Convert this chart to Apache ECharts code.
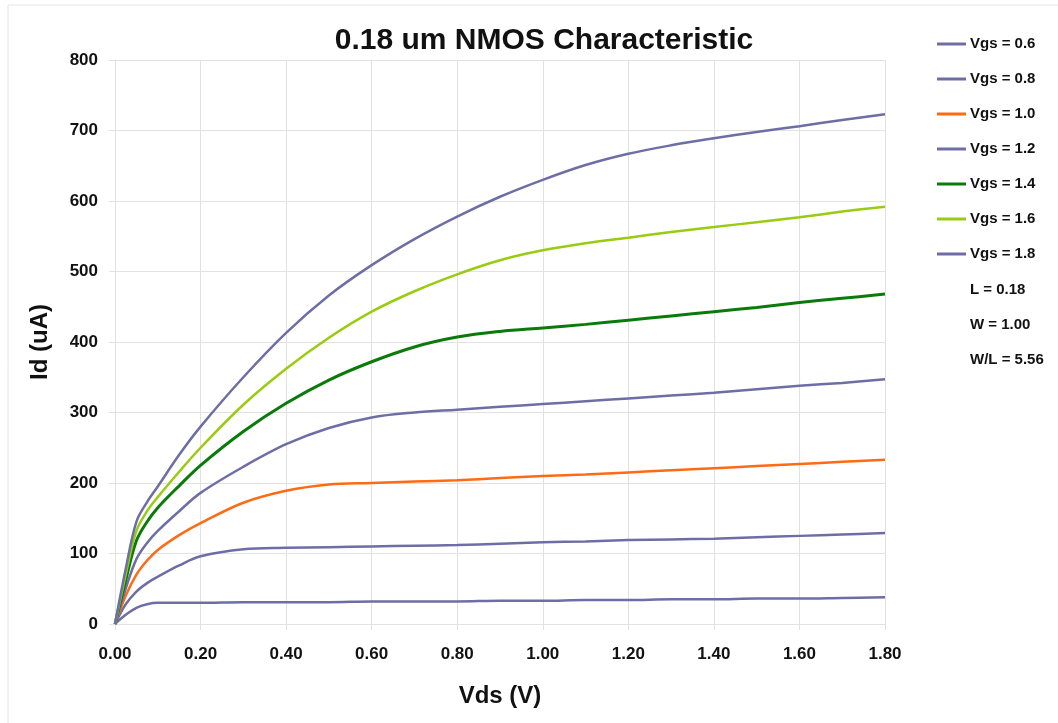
<!DOCTYPE html>
<html>
<head>
<meta charset="utf-8">
<script src="https://cdn.jsdelivr.net/npm/echarts@6/dist/echarts.min.js"></script>
<style>
  html, body { margin: 0; padding: 0; background: #fff; }
  #chart { width: 1058px; height: 723px; }
</style>
</head>
<body>
<div id="chart"></div>
<script>
// Vds sample points (V)
const vds = [0, 0.025, 0.05, 0.075, 0.1, 0.15, 0.2, 0.3, 0.4, 0.5, 0.6, 0.7, 0.8, 0.9, 1.0, 1.1, 1.2, 1.3, 1.4, 1.5, 1.6, 1.7, 1.8];

// Id (uA) for each Vgs
const id06 = [0, 13, 23, 28, 30, 30, 30, 31, 31, 31, 32, 32, 32, 33, 33, 34, 34, 35, 35, 36, 36, 37, 38];
const id08 = [0, 28, 46, 58, 67, 83, 96, 106, 108, 109, 110, 111, 112, 114, 116, 117, 119, 120, 121, 123, 125, 127, 129];
const id10 = [0, 40, 70, 90, 105, 126, 143, 172, 189, 198, 200, 202, 204, 207, 210, 212, 215, 218, 221, 224, 227, 230, 233];
const id12 = [0, 50, 92, 115, 132, 160, 186, 223, 255, 278, 293, 300, 304, 308, 312, 316, 320, 324, 328, 333, 338, 342, 347];
const id14 = [0, 62, 118, 145, 165, 196, 225, 273, 313, 346, 372, 393, 407, 415, 420, 425, 431, 437, 443, 449, 456, 462, 468];
const id16 = [0, 70, 132, 160, 180, 216, 250, 311, 362, 406, 443, 472, 496, 516, 530, 540, 548, 556, 563, 570, 577, 585, 592];
const id18 = [0, 78, 145, 173, 195, 240, 280, 350, 413, 466, 509, 546, 578, 606, 630, 651, 667, 679, 689, 698, 706, 715, 723];

const seriesNames = ['Vgs = 0.6', 'Vgs = 0.8', 'Vgs = 1.0', 'Vgs = 1.2', 'Vgs = 1.4', 'Vgs = 1.6', 'Vgs = 1.8'];
const seriesData = [id06, id08, id10, id12, id14, id16, id18];
const seriesColors = ['#6e6ea6', '#6e6ea6', '#ff6a14', '#6e6ea6', '#0a7a0a', '#99cc11', '#6e6ea6'];
const notes = ['L = 0.18', 'W = 1.00', 'W/L = 5.56'];

const font = 'Liberation Sans, Arial, sans-serif';
const gridColor = '#e2e2e2';

let chart = echarts.init(document.getElementById('chart'));

let series = seriesNames.map(function (name, i) {
    return {
        name: name,
        type: 'line',
        smooth: 0.35,
        showSymbol: false,
        symbol: 'none',
        lineStyle: { color: seriesColors[i], width: i === 4 ? 3 : 2.5 },
        itemStyle: { color: seriesColors[i] },
        data: vds.map(function (x, k) { return [x, seriesData[i][k]]; })
    };
});

let option = {
    animation: false,
    backgroundColor: '#fff',
    textStyle: { fontFamily: font },
    title: {
        text: '0.18 um NMOS Characteristic',
        left: 539,
        top: 21,
        textAlign: 'center',
        textStyle: { fontFamily: font, fontSize: 30, fontWeight: 'bold', color: '#111' }
    },
    legend: {
        orient: 'vertical',
        left: 932,
        top: 30,
        itemWidth: 29,
        itemHeight: 3,
        itemGap: 17,
        icon: 'rect',
        data: seriesNames,
        textStyle: { fontFamily: font, fontSize: 15, fontWeight: 'bold', color: '#111', lineHeight: 18, padding: [0, 0, 0, -1] }
    },
    grid: { left: 115, right: 173, top: 60, bottom: 99, containLabel: false },
    xAxis: {
        type: 'value',
        min: 0,
        max: 1.8,
        interval: 0.2,
        name: 'Vds (V)',
        nameLocation: 'middle',
        nameGap: 60,
        nameTextStyle: { fontFamily: font, fontSize: 24, fontWeight: 'bold', color: '#111' },
        axisLine: { show: true, lineStyle: { color: gridColor } },
        axisTick: { show: true, length: 6, lineStyle: { color: gridColor } },
        splitLine: { show: true, lineStyle: { color: gridColor, width: 1 } },
        axisLabel: {
            margin: 22,
            fontFamily: font, fontSize: 17, fontWeight: 'bold', color: '#111',
            formatter: function (v) { return v.toFixed(2); }
        }
    },
    yAxis: {
        type: 'value',
        min: 0,
        max: 800,
        interval: 100,
        name: 'Id (uA)',
        nameLocation: 'middle',
        nameGap: 63,
        nameTextStyle: { fontFamily: font, fontSize: 24, fontWeight: 'bold', color: '#111' },
        axisLine: { show: true, lineStyle: { color: gridColor } },
        axisTick: { show: true, length: 6, lineStyle: { color: gridColor } },
        splitLine: { show: true, lineStyle: { color: gridColor, width: 1 } },
        axisLabel: { margin: 17, fontFamily: font, fontSize: 17, fontWeight: 'bold', color: '#111' }
    },
    graphic: [
        {
            type: 'rect',
            shape: { x: 8, y: 5, width: 1200, height: 900 },
            style: { fill: 'none', stroke: '#e4e4e4', lineWidth: 1 },
            silent: true
        }
    ].concat(notes.map(function (t, i) {
        return {
            type: 'text',
            left: 970,
            top: 282 + i * 35,
            style: { text: t, font: 'bold 15px ' + font, fill: '#111' }
        };
    })),
    series: series
};

chart.setOption(option);
</script>
</body>
</html>
